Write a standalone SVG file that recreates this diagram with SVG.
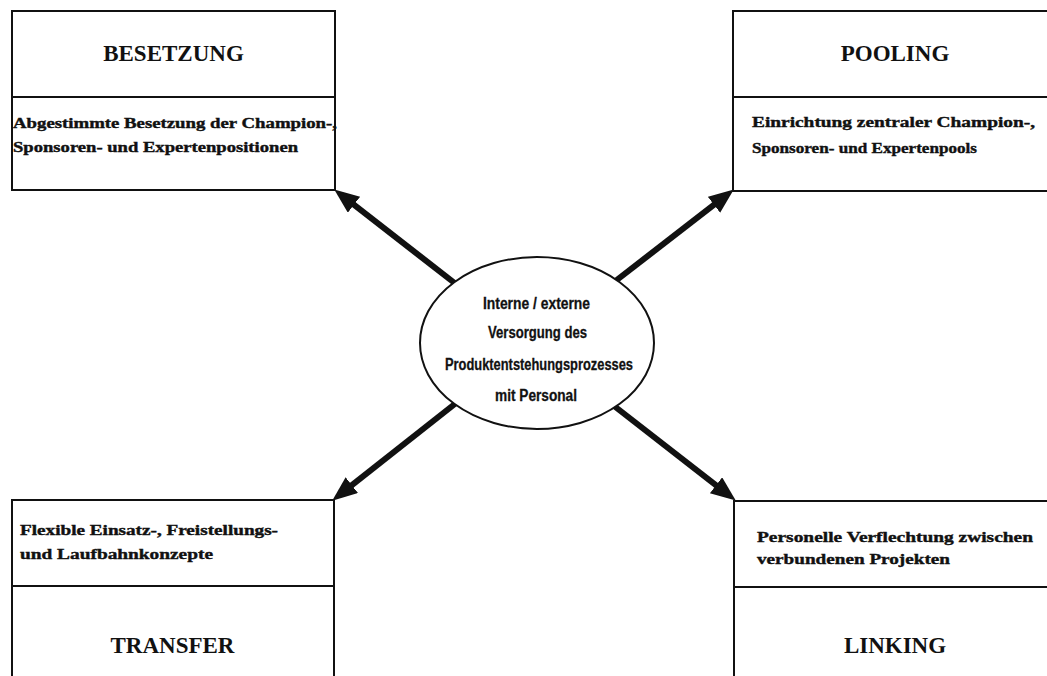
<svg xmlns="http://www.w3.org/2000/svg" width="1047" height="676" viewBox="0 0 1047 676">
<style>
.box{fill:#fff;stroke:#111;stroke-width:2}
.div{stroke:#111;stroke-width:2}
.title{font-family:"Liberation Serif",serif;font-weight:bold;font-size:23px;fill:#111;text-anchor:middle}
.body{font-family:"Liberation Serif",serif;font-weight:bold;font-size:15px;fill:#111;stroke:#111;stroke-width:0.4}
.ctr{font-family:"Liberation Sans",sans-serif;font-weight:bold;font-size:16px;fill:#111;stroke:#111;stroke-width:0.3}
.arr{stroke:#111;stroke-width:6;fill:none;marker-end:url(#ah)}
</style>
<defs>
<marker id="ah" markerUnits="userSpaceOnUse" markerWidth="28" markerHeight="22" refX="12" refY="10" orient="auto">
<path d="M0,0 L25,10 L0,20 Z" fill="#111"/>
</marker>
</defs>
<rect width="1047" height="676" fill="#fff"/>
<g id="connectors">
<line class="arr" x1="470" y1="295" x2="344.5" y2="197.4"/>
<line class="arr" x1="600" y1="293" x2="723.5" y2="197.4"/>
<line class="arr" x1="470" y1="392" x2="342.4" y2="492.6"/>
<line class="arr" x1="600" y1="395" x2="725.5" y2="492.6"/>
</g>
<g id="besetzung">
<rect class="box" x="12" y="11" width="323" height="179"/>
<line class="div" x1="12" y1="97" x2="335" y2="97"/>
<text class="title" x="173.5" y="61">BESETZUNG</text>
<text class="body" x="13" y="128" textLength="324" lengthAdjust="spacingAndGlyphs">Abgestimmte Besetzung der Champion-,</text>
<text class="body" x="13" y="152" textLength="285" lengthAdjust="spacingAndGlyphs">Sponsoren- und Expertenpositionen</text>
</g>
<g id="pooling">
<rect class="box" x="733" y="11" width="330" height="180"/>
<line class="div" x1="733" y1="97" x2="1063" y2="97"/>
<text class="title" x="895" y="61">POOLING</text>
<text class="body" x="752" y="127" textLength="283" lengthAdjust="spacingAndGlyphs">Einrichtung zentraler Champion-,</text>
<text class="body" x="752" y="153" textLength="225" lengthAdjust="spacingAndGlyphs">Sponsoren- und Expertenpools</text>
</g>
<g id="transfer">
<rect class="box" x="12" y="500" width="322" height="200"/>
<line class="div" x1="12" y1="586" x2="334" y2="586"/>
<text class="body" x="20" y="535" textLength="258" lengthAdjust="spacingAndGlyphs">Flexible Einsatz-, Freistellungs-</text>
<text class="body" x="20" y="559" textLength="193" lengthAdjust="spacingAndGlyphs">und Laufbahnkonzepte</text>
<text class="title" x="172.5" y="653">TRANSFER</text>
</g>
<g id="linking">
<rect class="box" x="734" y="501" width="330" height="200"/>
<line class="div" x1="734" y1="587" x2="1064" y2="587"/>
<text class="body" x="757" y="542" textLength="276" lengthAdjust="spacingAndGlyphs">Personelle Verflechtung zwischen</text>
<text class="body" x="757" y="564" textLength="193" lengthAdjust="spacingAndGlyphs">verbundenen Projekten</text>
<text class="title" x="895" y="653">LINKING</text>
</g>
<g id="center">
<ellipse cx="537" cy="343" rx="117" ry="86" fill="#fff" stroke="#111" stroke-width="2"/>
<text class="ctr" x="483" y="309" textLength="107" lengthAdjust="spacingAndGlyphs">Interne / externe</text>
<text class="ctr" x="488" y="338" textLength="99" lengthAdjust="spacingAndGlyphs">Versorgung des</text>
<text class="ctr" x="445" y="370" textLength="188" lengthAdjust="spacingAndGlyphs">Produktentstehungsprozesses</text>
<text class="ctr" x="495" y="401" textLength="82" lengthAdjust="spacingAndGlyphs">mit Personal</text>
</g>
</svg>
